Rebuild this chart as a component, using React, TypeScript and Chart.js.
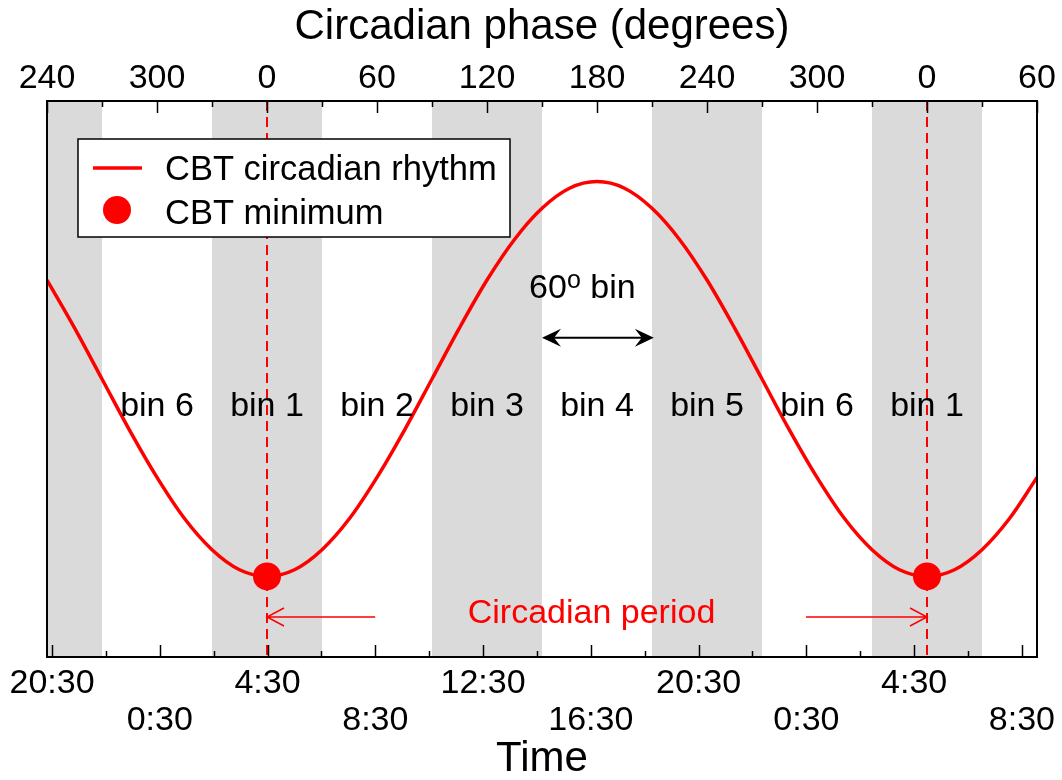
import { useEffect, useRef } from 'react';
import { Chart, registerables } from 'chart.js';

Chart.register(...registerables);

const FONT = "'Liberation Sans', Arial, Helvetica, sans-serif";
const RED = '#ff0000';
const BAND = '#dadada';

// Circadian phase (degrees, continuous) and CBT curve (arbitrary units)
const PHASE_POINTS = [
  240, 255, 270, 285, 300, 315, 330, 345, 360, 375, 390, 405, 420, 435, 450, 465, 480, 495, 510,
  525, 540, 555, 570, 585, 600, 615, 630, 645, 660, 675, 690, 705, 720, 735, 750, 765, 780,
];
const CBT_VALUES = [
  6.78, 5.92, 5.0, 4.08, 3.23, 2.49, 1.93, 1.57, 1.45, 1.57, 1.93, 2.49, 3.23, 4.08, 5.0, 5.92, 6.78, 7.51, 8.07,
  8.43, 8.55, 8.43, 8.07, 7.51, 6.78, 5.92, 5.0, 4.08, 3.23, 2.49, 1.93, 1.57, 1.45, 1.57, 1.93, 2.49, 3.23,
];
const MIN_PHASES = [360, 720];
const MIN_VALUES = [1.45, 1.45];

// Top axis (phase) ticks
const PHASE_TICKS = [240, 270, 300, 330, 360, 390, 420, 450, 480, 510, 540, 570, 600, 630, 660, 690, 720, 750, 780];
const PHASE_LABELS = ['240', '300', '0', '60', '120', '180', '240', '300', '0', '60'];

// Bottom axis (time, hours) ticks
const TIME_TICKS = [20.5, 22.5, 24.5, 26.5, 28.5, 30.5, 32.5, 34.5, 36.5, 38.5, 40.5, 42.5, 44.5, 46.5, 48.5, 50.5, 52.5, 54.5, 56.5];
const TIME_LABELS = ['20:30', '0:30', '4:30', '8:30', '12:30', '16:30', '20:30', '0:30', '4:30', '8:30'];
const TIME_MIN = 20.314;
const TIME_MAX = 57.06;

// Shaded bins (phase ranges) and bin labels
const SHADED_BINS = [[240, 270], [330, 390], [450, 510], [570, 630], [690, 750]];
const BIN_CENTERS = [300, 360, 420, 480, 540, 600, 660, 720];
const BIN_LABELS = ['bin 6', 'bin 1', 'bin 2', 'bin 3', 'bin 4', 'bin 5', 'bin 6', 'bin 1'];
const BIN_LABEL_Y = 4.5;

// Annotations (data units)
const BIN_ARROW = { from: 510, to: 571, y: 5.74 };
const BIN_TEXT = { phase: 532, y: 6.457 };
const PERIOD_TEXT = { phase: 537, y: 0.78, text: 'Circadian period' };
const PERIOD_ARROWS = [{ from: 419, to: 360 }, { from: 654, to: 720 }];
const PERIOD_ARROW_Y = 0.72;

const annotationPlugin = {
  id: 'annotations',
  beforeDatasetsDraw(chart: any) {
    const { ctx, chartArea: ca } = chart;
    const xs = chart.scales.phase;
    ctx.save();
    ctx.fillStyle = BAND;
    SHADED_BINS.forEach(([a, b]) => {
      const x1 = xs.getPixelForValue(a);
      const x2 = xs.getPixelForValue(b);
      ctx.fillRect(x1, ca.top, x2 - x1, ca.bottom - ca.top);
    });
    ctx.restore();
  },
  afterDatasetsDraw(chart: any) {
    const { ctx, chartArea: ca } = chart;
    const xs = chart.scales.phase;
    const xt = chart.scales.time;
    const ys = chart.scales.y;
    ctx.save();

    // tick marks (inward)
    ctx.strokeStyle = '#000';
    ctx.lineWidth = 1.5;
    PHASE_TICKS.forEach((v, i) => {
      const x = Math.round(xs.getPixelForValue(v)) + 0.5;
      const len = i % 2 === 0 ? 12 : 6;
      ctx.beginPath();
      ctx.moveTo(x, ca.top);
      ctx.lineTo(x, ca.top + len);
      ctx.stroke();
    });
    TIME_TICKS.forEach((v, i) => {
      const x = Math.round(xt.getPixelForValue(v)) + 0.5;
      const len = i % 2 === 0 ? 12 : 6;
      ctx.beginPath();
      ctx.moveTo(x, ca.bottom);
      ctx.lineTo(x, ca.bottom - len);
      ctx.stroke();
    });

    // frame
    ctx.lineWidth = 2;
    ctx.strokeRect(ca.left, ca.top, ca.right - ca.left, ca.bottom - ca.top);

    // bin labels
    ctx.fillStyle = '#000';
    ctx.font = `34px ${FONT}`;
    ctx.textAlign = 'center';
    ctx.textBaseline = 'middle';
    BIN_CENTERS.forEach((c, i) => {
      ctx.fillText(BIN_LABELS[i], xs.getPixelForValue(c), ys.getPixelForValue(BIN_LABEL_Y));
    });

    // 60° bin label
    {
      ctx.textAlign = 'left';
      ctx.textBaseline = 'alphabetic';
      const big = `34px ${FONT}`;
      const small = `25px ${FONT}`;
      ctx.font = big;
      const w1 = ctx.measureText('60').width;
      const w3 = ctx.measureText(' bin').width;
      ctx.font = small;
      const w2 = ctx.measureText('o').width;
      const total = w1 + w2 + w3;
      const cx = xs.getPixelForValue(BIN_TEXT.phase);
      const by = ys.getPixelForValue(BIN_TEXT.y);
      let x = cx - total / 2;
      ctx.font = big;
      ctx.fillText('60', x, by);
      x += w1;
      ctx.font = small;
      ctx.fillText('o', x, by - 10);
      x += w2;
      ctx.font = big;
      ctx.fillText(' bin', x, by);
    }

    // double arrow
    {
      const x1 = xs.getPixelForValue(BIN_ARROW.from);
      const x2 = xs.getPixelForValue(BIN_ARROW.to);
      const y = ys.getPixelForValue(BIN_ARROW.y);
      ctx.strokeStyle = '#000';
      ctx.fillStyle = '#000';
      ctx.lineWidth = 2;
      ctx.beginPath();
      ctx.moveTo(x1 + 6, y);
      ctx.lineTo(x2 - 6, y);
      ctx.stroke();
      const head = (tx: number, dir: number) => {
        ctx.beginPath();
        ctx.moveTo(tx, y);
        ctx.lineTo(tx + dir * 19, y - 9);
        ctx.lineTo(tx + dir * 12, y);
        ctx.lineTo(tx + dir * 19, y + 9);
        ctx.closePath();
        ctx.fill();
      };
      head(x1, 1);
      head(x2, -1);
    }

    // circadian period
    {
      ctx.fillStyle = RED;
      ctx.font = `34px ${FONT}`;
      ctx.textAlign = 'center';
      ctx.textBaseline = 'middle';
      ctx.fillText(PERIOD_TEXT.text, xs.getPixelForValue(PERIOD_TEXT.phase), ys.getPixelForValue(PERIOD_TEXT.y));
      const y = ys.getPixelForValue(PERIOD_ARROW_Y);
      ctx.strokeStyle = RED;
      ctx.lineWidth = 1.5;
      PERIOD_ARROWS.forEach(({ from, to }) => {
        const xf = xs.getPixelForValue(from);
        const xto = xs.getPixelForValue(to);
        const dir = xto > xf ? -1 : 1;
        ctx.beginPath();
        ctx.moveTo(xf, y);
        ctx.lineTo(xto, y);
        ctx.moveTo(xto + dir * 17, y - 9);
        ctx.lineTo(xto, y);
        ctx.lineTo(xto + dir * 17, y + 9);
        ctx.stroke();
      });
    }

    // legend
    {
      const lx = ca.left + 31;
      const ly = ca.top + 38;
      const lw = 432;
      const lh = 98;
      ctx.fillStyle = '#fff';
      ctx.fillRect(lx, ly, lw, lh);
      ctx.strokeStyle = '#000';
      ctx.lineWidth = 1.5;
      ctx.strokeRect(lx, ly, lw, lh);
      ctx.strokeStyle = RED;
      ctx.lineWidth = 3.5;
      ctx.beginPath();
      ctx.moveTo(lx + 15, ly + 29);
      ctx.lineTo(lx + 64, ly + 29);
      ctx.stroke();
      ctx.fillStyle = RED;
      ctx.beginPath();
      ctx.arc(lx + 39, ly + 71, 14, 0, Math.PI * 2);
      ctx.fill();
      ctx.fillStyle = '#000';
      ctx.font = `34.5px ${FONT}`;
      ctx.textAlign = 'left';
      ctx.textBaseline = 'middle';
      ctx.fillText('CBT circadian rhythm', lx + 87, ly + 31);
      ctx.fillText('CBT minimum', lx + 87, ly + 75);
    }

    ctx.restore();
  },
};

export default function App() {
  const canvasRef = useRef<HTMLCanvasElement | null>(null);

  useEffect(() => {
    document.body.style.margin = '0';
    const canvas = canvasRef.current;
    if (!canvas) return;

    const curve = PHASE_POINTS.map((p, i) => ({ x: p, y: CBT_VALUES[i] }));
    const minima = MIN_PHASES.map((p, i) => ({ x: p, y: MIN_VALUES[i] }));

    const chart = new Chart(canvas, {
      type: 'line',
      data: {
        datasets: [
          {
            label: 'CBT minimum',
            data: minima,
            xAxisID: 'phase',
            yAxisID: 'y',
            showLine: false,
            pointRadius: 14,
            pointBackgroundColor: RED,
            pointBorderWidth: 0,
            borderColor: RED,
            backgroundColor: RED,
          },
          {
            label: 'CBT circadian rhythm',
            data: curve,
            xAxisID: 'phase',
            yAxisID: 'y',
            borderColor: RED,
            borderWidth: 3.5,
            pointRadius: 0,
            cubicInterpolationMode: 'monotone',
            fill: false,
          },
          ...MIN_PHASES.map((p) => ({
            label: 'min line',
            data: [{ x: p, y: 10 }, { x: p, y: 0 }],
            xAxisID: 'phase',
            yAxisID: 'y',
            borderColor: RED,
            borderWidth: 2,
            borderDash: [10, 6],
            pointRadius: 0,
            fill: false,
          })),
        ],
      },
      options: {
        animation: false,
        responsive: true,
        maintainAspectRatio: false,
        events: [],
        layout: { padding: { left: 47, right: 25, top: 0, bottom: 0 } },
        plugins: { legend: { display: false }, tooltip: { enabled: false } },
        scales: {
          phase: {
            type: 'linear',
            axis: 'x',
            position: 'top',
            min: 240,
            max: 780,
            afterBuildTicks: (s: any) => {
              s.ticks = PHASE_TICKS.map((v) => ({ value: v }));
            },
            afterFit: (s: any) => {
              s.height = 101;
              s.paddingLeft = 0;
              s.paddingRight = 0;
            },
            grid: { display: false, drawTicks: false },
            border: { display: false },
            ticks: {
              autoSkip: false,
              maxRotation: 0,
              minRotation: 0,
              padding: 3,
              color: '#000',
              font: { family: FONT, size: 34, lineHeight: 1.12 },
              callback: (_v: any, i: number) => (i % 2 === 0 ? PHASE_LABELS[i / 2] : ''),
            },
            title: {
              display: true,
              text: 'Circadian phase (degrees)',
              color: '#000',
              font: { family: FONT, size: 42, lineHeight: 1 },
              padding: { top: 6, bottom: 0 },
            },
          },
          time: {
            type: 'linear',
            axis: 'x',
            position: 'bottom',
            min: TIME_MIN,
            max: TIME_MAX,
            afterBuildTicks: (s: any) => {
              s.ticks = TIME_TICKS.map((v) => ({ value: v }));
            },
            afterFit: (s: any) => {
              s.height = 123;
              s.paddingLeft = 0;
              s.paddingRight = 0;
            },
            grid: { display: false, drawTicks: false },
            border: { display: false },
            ticks: {
              autoSkip: false,
              maxRotation: 0,
              minRotation: 0,
              padding: 7.5,
              color: '#000',
              font: { family: FONT, size: 34, lineHeight: 1.1 },
              callback: (_v: any, i: number) => {
                if (i % 2 !== 0) return '';
                const k = i / 2;
                return k % 2 === 0 ? [TIME_LABELS[k], ''] : ['', TIME_LABELS[k]];
              },
            },
            title: {
              display: true,
              text: 'Time',
              color: '#000',
              font: { family: FONT, size: 42, lineHeight: 1 },
              padding: { top: 0, bottom: 0 },
            },
          },
          y: {
            type: 'linear',
            display: false,
            min: 0,
            max: 10,
          },
        },
      } as any,
      plugins: [annotationPlugin],
    });

    return () => chart.destroy();
  }, []);

  return (
    <div style={{ width: 1062, height: 780, position: 'relative' }}>
      <canvas ref={canvasRef} />
    </div>
  );
}
